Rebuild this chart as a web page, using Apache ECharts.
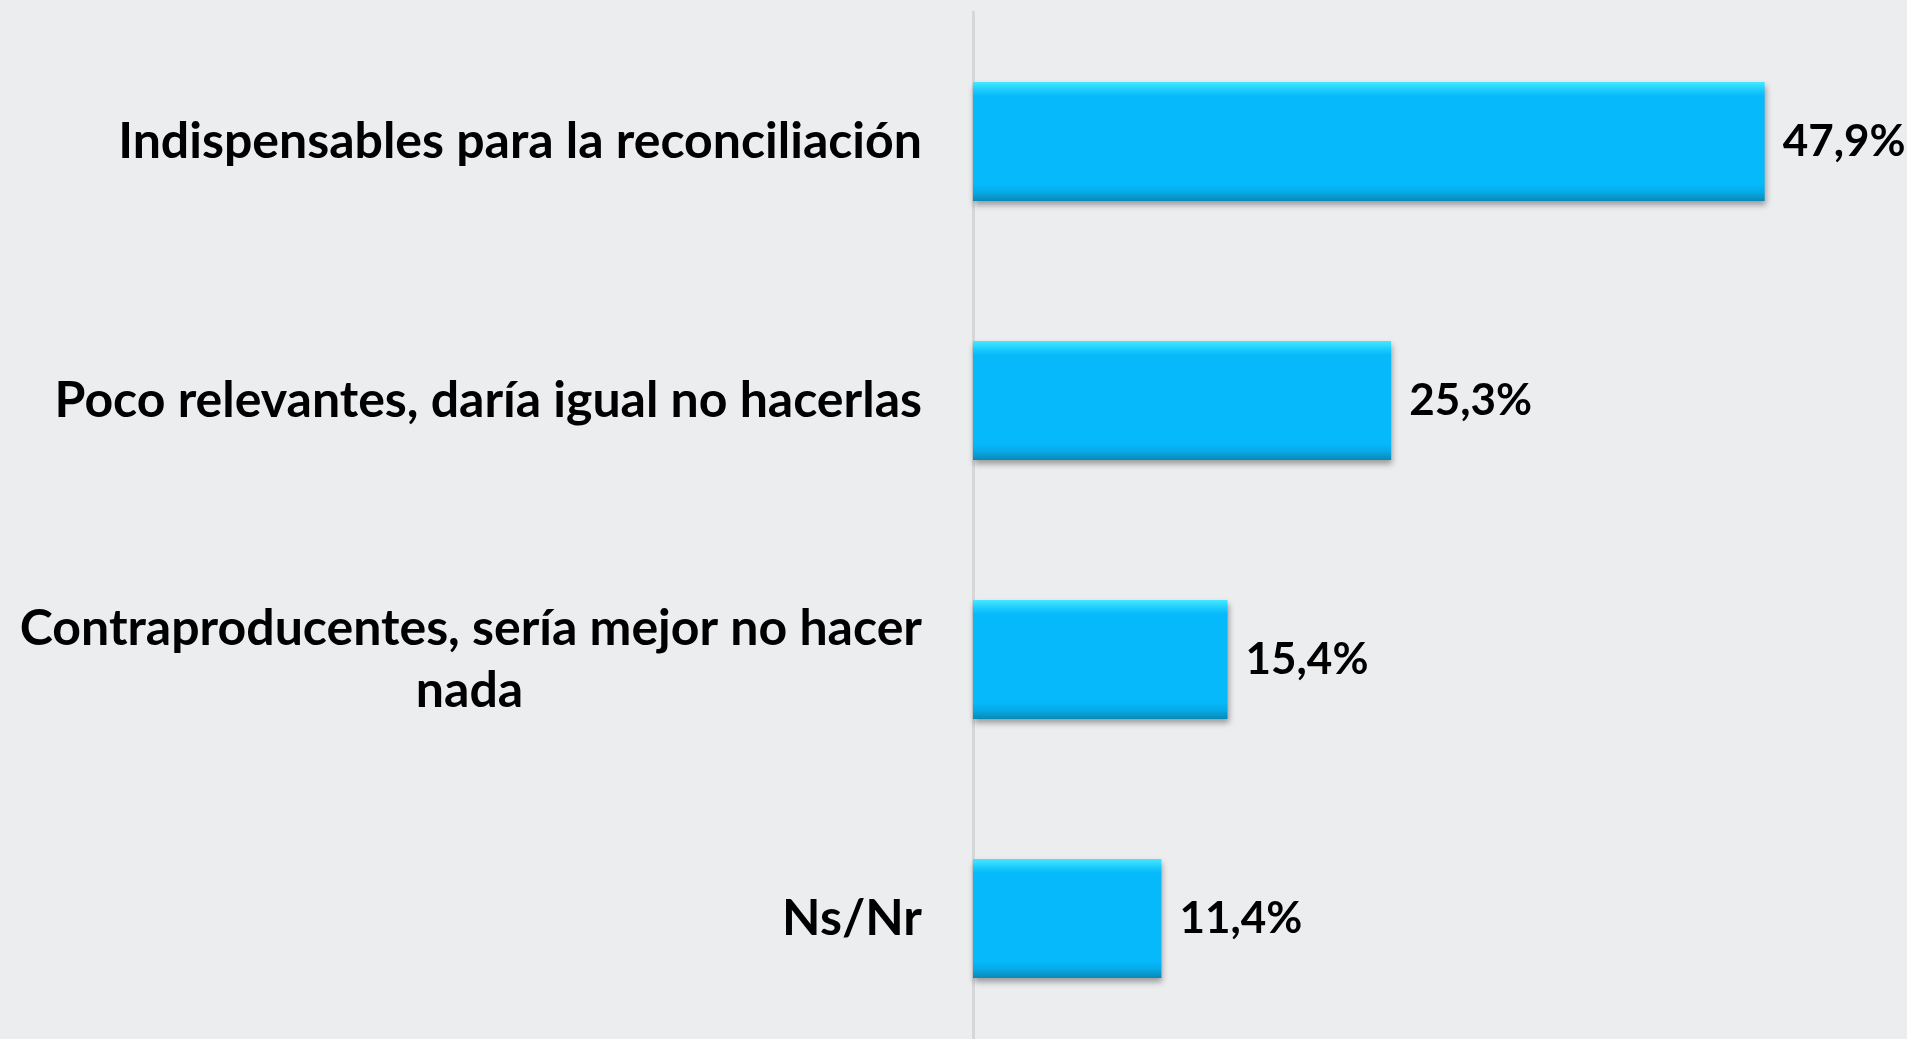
<!DOCTYPE html>
<html>
<head>
<meta charset="utf-8">
<script src="https://cdn.jsdelivr.net/npm/echarts@6/dist/echarts.min.js"></script>
<style>
  html, body { margin: 0; padding: 0; background: #ECEDEF; }
  #chart { width: 1907px; height: 1039px; }
</style>
</head>
<body>
<div id="chart"></div>
<script>
// categories, top to bottom
var categories = [
  "Indispensables para la reconciliación",
  "Poco relevantes, daría igual no hacerlas",
  "Contraproducentes, sería mejor no hacer\nnada",
  "Ns/Nr"
];
// percentages
var values = [47.9, 25.3, 15.4, 11.4];

var myChart = echarts.init(document.getElementById("chart"));

var labelFont = "Lato";

// bevelled look: light top edge, dark bottom edge
var barFill = new echarts.graphic.LinearGradient(0, 0, 0, 1, [
  { offset: 0, color: "#44E8FF" },
  { offset: 0.07, color: "#1CCBFD" },
  { offset: 0.12, color: "#05B9FB" },
  { offset: 0.86, color: "#05B9FB" },
  { offset: 0.93, color: "#07A9E4" },
  { offset: 1, color: "#0A88B4" }
]);

var option = {
  backgroundColor: "#ECEDEF",
  animation: false,
  grid: { left: 973, right: 25, top: 12, height: 1036, outerBoundsMode: "none", containLabel: false },
  xAxis: {
    type: "value",
    min: 0,
    max: 55,
    show: false
  },
  yAxis: {
    type: "category",
    inverse: true,
    data: categories,
    axisLine: { show: true, lineStyle: { color: "#D6D7D9", width: 3 } },
    axisTick: { show: false },
    axisLabel: {
      margin: 51,
      color: "#000",
      fontFamily: labelFont,
      fontWeight: "bold",
      fontSize: 50,
      lineHeight: 62,
      formatter: function (v) {
        var parts = v.split("\n");
        if (parts.length > 1) {
          return "{a|" + parts[0] + "}\n{c|" + parts[1] + "}";
        }
        return v;
      },
      rich: {
        a: { fontFamily: labelFont, fontWeight: "bold", fontSize: 50, lineHeight: 62, color: "#000" },
        c: { fontFamily: labelFont, fontWeight: "bold", fontSize: 50, lineHeight: 62, color: "#000", width: 905, align: "center" }
      }
    }
  },
  series: [{
    type: "bar",
    data: values,
    barWidth: 119,
    itemStyle: {
      color: barFill,
      shadowColor: "rgba(0,0,0,0.35)",
      shadowBlur: 6,
      shadowOffsetX: 1,
      shadowOffsetY: 4
    },
    label: {
      show: true,
      position: "right",
      distance: 18,
      color: "#000",
      fontFamily: labelFont,
      fontWeight: "bold",
      fontSize: 44,
      formatter: function (p) {
        return p.value.toFixed(1).replace(".", ",") + "%";
      }
    }
  }]
};

myChart.setOption(option);
</script>
</body>
</html>
